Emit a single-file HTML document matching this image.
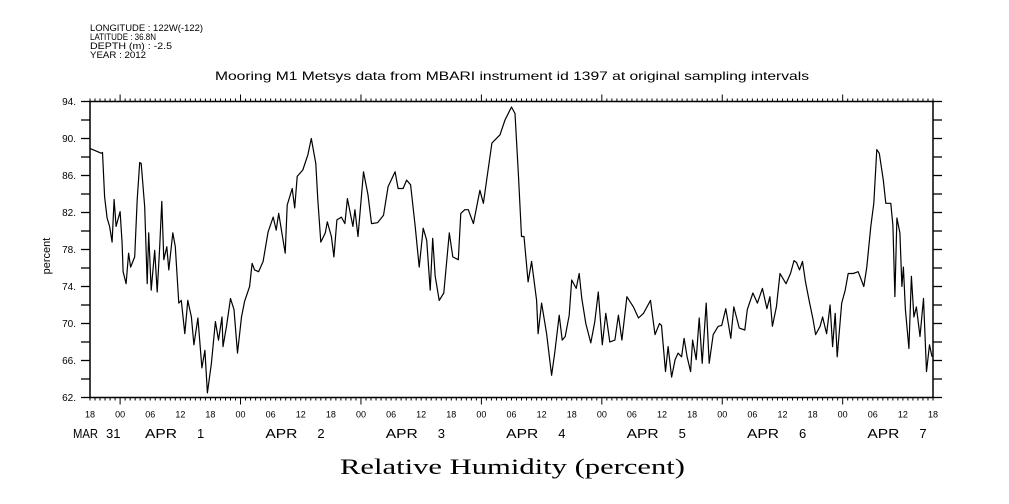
<!DOCTYPE html>
<html><head><meta charset="utf-8"><style>
html,body{margin:0;padding:0;background:#fff;}
svg{display:block;font-family:"Liberation Sans",sans-serif;}
</style></head><body>
<svg id="chart" width="1009" height="504" viewBox="0 0 1009 504" xmlns="http://www.w3.org/2000/svg">
<rect width="1009" height="504" fill="#fff"/>
<g font-size="9" fill="#000">
<text x="90" y="31" textLength="113" lengthAdjust="spacingAndGlyphs">LONGITUDE : 122W(-122)</text>
<text x="90" y="40" textLength="66" lengthAdjust="spacingAndGlyphs">LATITUDE : 36.8N</text>
<text x="90" y="49" textLength="82" lengthAdjust="spacingAndGlyphs">DEPTH (m) : -2.5</text>
<text x="90" y="58" textLength="56" lengthAdjust="spacingAndGlyphs">YEAR : 2012</text>
</g>
<text x="215" y="80" font-size="12" textLength="594" lengthAdjust="spacingAndGlyphs">Mooring M1 Metsys data from MBARI instrument id 1397 at original sampling intervals</text>
<text x="0" y="0" font-size="11" transform="translate(50,256) rotate(-90)" text-anchor="middle">percent</text>
<text x="340" y="474" font-family="Liberation Serif, serif" font-size="22" textLength="345" lengthAdjust="spacingAndGlyphs">Relative Humidity (percent)</text>
<g id="axes"></g>
<g id="series"></g>
</svg>
<script>
const hours=[0.1,2.3,2.5,2.9,3.4,3.9,4.4,4.8,5.2,6.0,6.4,6.6,7.2,7.7,8.1,8.9,9.4,9.9,10.2,10.9,11.4,11.7,12.2,12.9,13.4,13.9,14.3,14.7,15.3,15.7,16.5,17.0,17.7,18.2,18.9,19.5,20.2,20.7,21.5,22.3,22.9,23.4,24.2,25.0,25.6,26.3,26.5,27.2,28.0,28.7,29.4,30.2,30.8,31.8,32.3,32.8,33.6,34.5,35.5,36.5,37.1,37.6,38.9,39.3,40.3,40.8,41.3,42.4,43.4,44.1,45.0,45.4,46.0,46.9,47.3,48.1,48.6,49.2,50.1,50.8,51.3,52.4,52.8,53.4,54.5,55.4,56.1,57.3,58.5,59.4,60.8,61.4,62.4,63.1,63.9,64.8,65.6,66.4,67.1,67.8,68.3,68.8,69.6,70.5,71.6,72.3,73.4,73.9,74.7,75.4,76.4,77.7,78.4,79.1,80.1,81.7,82.7,84.0,84.7,85.4,86.0,86.5,87.3,88.0,89.0,89.3,90.0,91.0,92.0,92.6,93.5,94.1,94.7,95.5,96.0,96.9,97.5,98.0,98.8,99.8,100.6,101.3,102.1,102.8,103.6,104.6,105.3,106.0,107.0,108.3,109.3,110.3,111.7,112.6,113.5,113.9,114.7,115.2,115.9,116.6,117.2,117.9,118.4,119.0,119.7,120.1,120.8,121.4,122.0,122.8,123.4,124.2,125.2,125.9,126.7,127.7,128.3,129.4,130.5,131.0,132.1,133.0,134.0,134.9,135.5,136.0,136.8,137.5,138.7,139.6,140.3,140.8,141.4,142.0,142.6,143.3,144.1,144.6,145.5,146.0,146.8,147.5,148.0,148.5,148.9,149.8,150.5,151.1,152.1,153.1,154.2,154.8,155.6,156.2,156.8,157.3,158.1,158.6,159.6,160.0,160.4,160.8,161.4,161.8,162.1,162.5,163.2,163.7,164.2,164.7,165.4,166.1,166.7,167.3,167.8];
const rh=[88.9,88.4,88.5,83.7,81.4,80.5,78.8,83.4,80.5,82.1,78.7,75.6,74.3,77.6,76.1,77.2,83.4,87.4,87.3,82.6,74.3,79.8,73.6,77.9,73.4,78.3,83.2,76.9,78.3,75.8,79.8,78.3,72.2,72.5,68.9,72.5,70.7,67.7,70.6,65.2,67.1,62.5,65.7,70.2,68.2,70.7,67.5,69.7,72.7,71.5,66.8,70.7,72.4,74.0,76.5,75.8,75.6,76.7,79.9,81.5,80.1,81.9,77.6,82.8,84.6,82.5,85.9,86.6,88.2,90.0,87.3,83.4,78.8,79.8,81.0,79.4,77.2,81.2,81.5,80.8,83.5,80.5,82.3,79.4,86.4,83.9,80.8,80.9,81.7,84.8,86.4,84.6,84.6,85.5,85.0,80.5,76.1,80.3,79.0,73.6,79.2,75.1,72.5,73.3,79.8,77.2,76.9,81.9,82.3,82.3,80.8,84.4,83.0,85.7,89.5,90.4,92.0,93.4,92.7,85.9,79.4,79.4,74.5,76.7,72.5,68.9,72.2,68.9,64.4,66.8,70.9,68.2,68.6,70.9,74.7,73.8,75.4,72.7,70.0,67.9,70.2,73.4,67.7,71.1,68.0,68.2,70.9,68.2,72.9,71.8,70.6,71.1,72.5,68.8,70.0,69.8,64.8,67.5,64.2,66.1,66.8,66.4,68.4,66.4,64.8,68.2,66.1,70.6,65.7,72.2,65.7,68.8,69.7,69.8,71.6,68.4,71.8,69.5,69.3,71.5,73.3,72.2,73.8,71.6,72.9,69.7,71.8,75.4,74.3,75.4,76.8,76.6,75.8,76.7,74.5,72.5,70.4,68.8,69.7,70.7,68.9,72.0,67.5,71.1,66.4,72.2,73.6,75.4,75.4,75.6,74.0,76.1,80.5,83.0,88.8,88.4,85.5,83.0,83.0,80.6,72.9,81.4,79.8,74.0,76.1,71.5,67.3,75.1,70.7,71.8,68.6,72.7,64.8,67.7,66.4];
const yTicks=[62,66,70,74,78,82,86,90,94];
const hourLabels=["18","00","06","12"];
const dayLabels=[["MAR","31"],["APR","1"],["APR","2"],["APR","3"],["APR","4"],["APR","5"],["APR","6"],["APR","7"]];
const NS="http://www.w3.org/2000/svg";
const X0=90,X1=933,Y0=101.5,Y1=397.5,HMAX=168,VMIN=62,VMAX=94;
const xs=h=>X0+(h/HMAX)*(X1-X0);
const ys=v=>Y1-(v-VMIN)/(VMAX-VMIN)*(Y1-Y0);
function mk(tag,attrs,parent){const e=document.createElementNS(NS,tag);for(const k in attrs)e.setAttribute(k,attrs[k]);parent.appendChild(e);return e;}
const ax=document.getElementById('axes');
const frame=mk('rect',{x:X0,y:Y0,width:X1-X0,height:Y1-Y0,fill:'none',stroke:'#000','stroke-width':1.5},ax);


for(let v=VMIN;v<=VMAX;v+=2){
 const y=ys(v);
 const t1=mk('line',{x1:X0-9,x2:X0,y1:y,y2:y,stroke:'#000','stroke-width':1.3},ax);
 
 
 const t2=mk('line',{x1:X1,x2:X1+9,y1:y,y2:y,stroke:'#000','stroke-width':1.3},ax);
 
 
}
yTicks.forEach(v=>{
 const t=mk('text',{x:76,y:ys(v)+3.5,'font-size':10,'text-anchor':'end'},ax);
 t.textContent=v+'.';
 
 
});
for(let h=0;h<=HMAX;h++){
 const x=xs(h);const major=((h+18)%24===0);const len=major?7:3;
 const a=mk('line',{x1:x,x2:x,y1:Y0-len,y2:Y0,stroke:'#000','stroke-width':1},ax);
 
 
 const b=mk('line',{x1:x,x2:x,y1:Y1,y2:Y1+len,stroke:'#000','stroke-width':1},ax);
 
 
 if(h%6===0){
  const t=mk('text',{x:x,y:417.5,'font-size':9,'text-anchor':'middle'},ax);
  t.textContent=hourLabels[(h/6)%4];
  
  
 }
}
dayLabels.forEach((d,i)=>{
 const left=i===0?73:145+(i-1)*120.4;
 const numX=i===0?106:197+(i-1)*120.4;
 const a=mk('text',{x:left,y:438,'font-size':13,textLength:i===0?25:32,lengthAdjust:'spacingAndGlyphs'},ax);
 a.textContent=d[0];
 
 
 const b=mk('text',{x:numX,y:438,'font-size':13},ax);
 b.textContent=d[1];
 
 
});
const sg=document.getElementById('series');
let d='';
hours.forEach((h,i)=>{d+=(i?'L':'M')+xs(h).toFixed(1)+' '+ys(rh[i]).toFixed(1);});
const p=mk('path',{d:d,fill:'none',stroke:'#000','stroke-width':1.2,'stroke-linejoin':'round'},sg);


</script>
</body></html>
